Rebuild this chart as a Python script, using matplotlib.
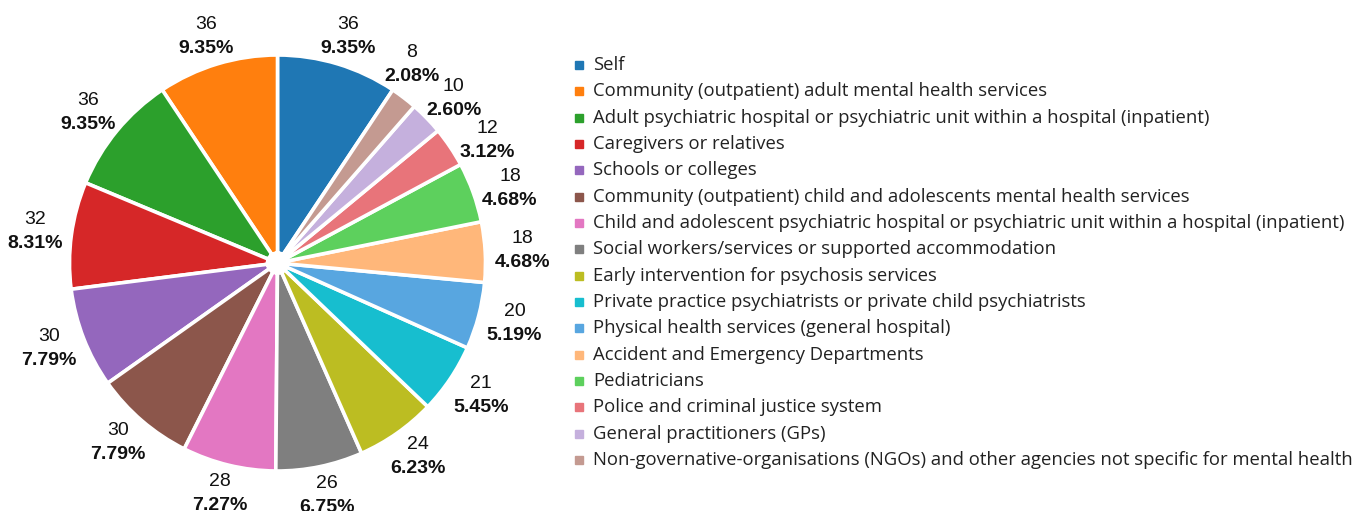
import numpy as np
import matplotlib
matplotlib.use("Agg")
import matplotlib.pyplot as plt

categories = [
    "Self",
    "Community (outpatient) adult mental health services",
    "Adult psychiatric hospital or psychiatric unit within a hospital (inpatient)",
    "Caregivers or relatives",
    "Schools or colleges",
    "Community (outpatient) child and adolescents mental health services",
    "Child and adolescent psychiatric hospital or psychiatric unit within a hospital (inpatient)",
    "Social workers/services or supported accommodation",
    "Early intervention for psychosis services",
    "Private practice psychiatrists or private child psychiatrists",
    "Physical health services (general hospital)",
    "Accident and Emergency Departments",
    "Pediatricians",
    "Police and criminal justice system",
    "General practitioners (GPs)",
    "Non-governative-organisations (NGOs) and other agencies not specific for mental health",
]
counts = [36, 36, 36, 32, 30, 30, 28, 26, 24, 21, 20, 18, 18, 12, 10, 8]
colors = ["#1f77b4", "#ff7f0e", "#2ca02c", "#d62728", "#9467bd", "#8c564b",
          "#e377c2", "#7f7f7f", "#bcbd22", "#17becf", "#58a6e0", "#ffb77a",
          "#5dd05d", "#e8747a", "#c5b0dd", "#c49a91"]

W, H = 1357, 511
fig = plt.figure(figsize=(W / 100, H / 100), dpi=100)
ax = fig.add_axes([0, 0, 1, 1])

cx, cy, R = 277.5, H - 263, 208
total = sum(counts)
start = 90 - 360.0 * counts[0] / total
wedges, _ = ax.pie(counts, colors=colors, startangle=start, counterclock=True,
                   radius=R, center=(cx, cy), frame=True,
                   wedgeprops=dict(width=R - 10, edgecolor="white", linewidth=2.6))
ax.set_xlim(0, W)
ax.set_ylim(0, H)
ax.set_aspect("auto")
ax.axis("off")

# label angles at wedge middles, spread apart where thin wedges crowd them
angs = np.array([(w.theta1 + w.theta2) / 2 for w in wedges])
order = np.argsort(angs)
min_sep = 12.8
for _ in range(200):
    moved = False
    for k in range(len(order)):
        a = order[k]
        b = order[(k + 1) % len(order)]
        gap = (angs[b] - angs[a]) % 360
        if gap < min_sep:
            d = (min_sep - gap) / 2
            angs[a] -= d
            angs[b] += d
            moved = True
    if not moved:
        break

rx, ry = 245, 237
for ang_d, v in zip(angs, counts):
    ang = np.deg2rad(ang_d)
    x = cx + rx * np.cos(ang)
    y = cy + ry * np.sin(ang)
    ax.text(x, y + 12, f"{v}", ha="center", va="center", fontsize=14,
            family="Liberation Sans", color="#111111")
    ax.text(x, y - 12, f"{v / total * 100:.2f}%", ha="center", va="center",
            fontsize=14, fontweight="bold", family="Liberation Sans", color="#111111")

# legend
lx_m, lx_t = 578.5, 593
y0, dy = 65, 26.33
for i, (c, lab) in enumerate(zip(colors, categories)):
    yy = H - (y0 + i * dy)
    ax.plot([lx_m], [yy], marker="s", markersize=5.2, color=c, linestyle="none")
    ax.text(lx_t, yy, lab, ha="left", va="center", fontsize=13.3,
            family="Open Sans", color="#222222")

fig.savefig("out.png", dpi=100)
